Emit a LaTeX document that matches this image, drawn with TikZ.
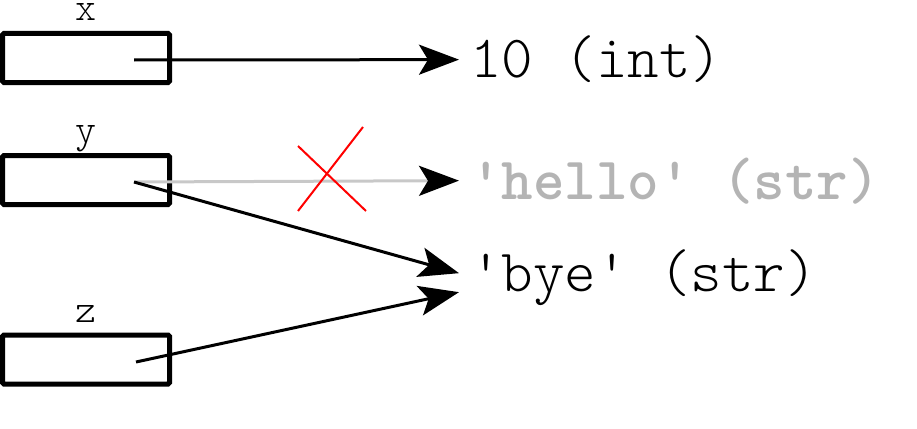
\documentclass[tikz,border=0pt]{standalone}
\usepackage{fontspec}
\setmonofont{Latin Modern Mono Light}
\usetikzlibrary{arrows.meta,positioning}
\definecolor{oldgray}{RGB}{200,200,200}
\definecolor{oldtext}{RGB}{180,180,180}

\begin{document}
\begin{tikzpicture}[x=1pt, y=-1pt, >={Stealth[length=40pt,width=30pt,inset=9pt]}]
	\tikzstyle{var} = [rectangle, rounded corners=1.5pt, minimum width=167pt, minimum height=49pt, line width=5pt, draw=black]
	\tikzstyle{varlabel} = [anchor=base, inner sep=0pt, text height=17pt, font=\fontsize{40}{40}\ttfamily]
	\tikzstyle{value} = [anchor=base west, inner xsep=11pt, inner ysep=0pt, font=\fontsize{60}{60}\ttfamily]
	\tikzstyle{ref} = [->, line width=3pt]
	\useasboundingbox (0,0) rectangle (917,428);
	% variables
	\node (xbox)[var] at (86, 58) {};
	\node (ybox)[var] at (86, 180) {};
	\node (zbox)[var] at (86, 359.5) {};
	\node (xlabel)[varlabel] at (86, 21) {x};
	\node (ylabel)[varlabel] at (86, 142) {y};
	\node (zlabel)[varlabel] at (86, 322) {z};
	\coordinate (xptr) at (134, 60);
	\coordinate (yptr) at (134, 182);
	\coordinate (zptr) at (136, 362);
	% objects
	\node (ten)[value] at (459, 77) {10 (int)};
	\node (hello)[value, text=oldtext, font=\fontsize{60}{60}\ttfamily\bfseries] at (459, 199) {'hello' (str)};
	\node (bye)[value] at (459, 291) {'bye' (str)};
	\draw [ref] (xptr) -- ([yshift=-1pt]ten.west);
	\draw [ref, oldgray, -{Stealth[length=40pt,width=30pt,inset=9pt,black]}] (yptr) -- (hello.west);
	\draw [ref] (yptr) -- ([yshift=4pt]bye.west);
	\draw [ref] (zptr) -- ([yshift=-15pt]bye.west);
	% crossed out
	\draw [red, line width=2pt] (298, 146) -- (366, 211);
	\draw [red, line width=2pt] (363, 127) -- (298, 211);
\end{tikzpicture}
\end{document}
